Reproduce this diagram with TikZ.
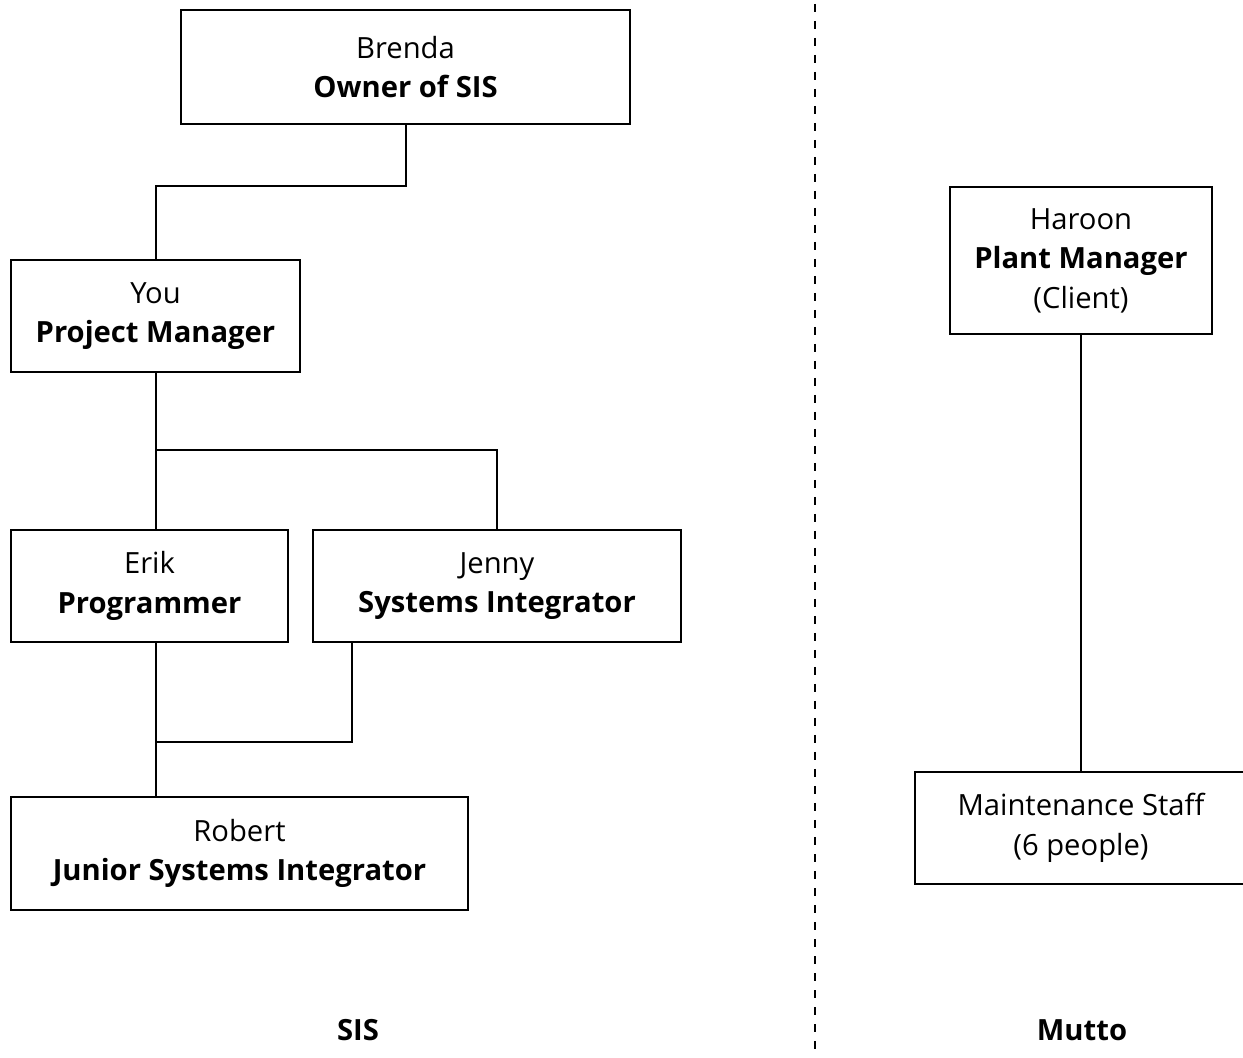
\documentclass[tikz,border=0pt]{standalone}
\usepackage{fontspec}
\setmainfont{Open Sans}

\begin{document}
\begin{tikzpicture}[x=0.5pt,y=-0.5pt,
  box/.style={draw,line width=1pt,align=center,inner sep=0pt,font=\fontsize{14.6}{19.7}\selectfont},
  link/.style={line width=1pt},
  title/.style={font=\fontsize{14.6}{19.7}\selectfont\bfseries}]
\useasboundingbox (0,0) rectangle (1243,1058);
\clip (0,0) rectangle (1243,1058);
\node at (405.5,67)[box,minimum width=224.5pt,minimum height=57pt] (Brenda) {Brenda\\\textbf{Owner of SIS}};
\node at (155.5,316)[box,minimum width=144.5pt,minimum height=56pt] (You) {You\\\textbf{Project Manager}};
\node at (149.5,586)[box,minimum width=138.5pt,minimum height=56pt] (Erik) {Erik\\\textbf{Programmer}};
\node at (497,586)[box,minimum width=184pt,minimum height=56pt] (Jenny) {Jenny\\\textbf{Systems Integrator}};
\node at (239.5,853.5)[box,minimum width=228.5pt,minimum height=56.5pt] (Robert) {Robert\\\textbf{Junior Systems Integrator}};
\node at (1081,260.5)[box,minimum width=131pt,minimum height=73.5pt] (Haroon) {Haroon\\\textbf{Plant Manager}\\(Client)};
\node at (1081,828)[box,minimum width=166pt,minimum height=56pt] (Maint) {Maintenance Staff\\(6 people)};
\node at (358,1030)[title] (SIS) {SIS};
\node at (1082,1030)[title] (Mutto) {Mutto};
\draw[link] (Brenda.south) -- (Brenda.south |- 0,186) -| (You.north);
\draw[link] (You.south) -- (You.south |- Erik.north);
\draw[link] (You.south |- 0,450) -| (Jenny.north);
\draw[link] (You.south |- Erik.south) -- (You.south |- Robert.north);
\draw[link] ([xshift=20pt]Jenny.south west) |- (You.south |- 0,742);
\draw[link] (Haroon) -- (Maint);
\draw[line width=1pt,dash pattern=on 4pt off 4.5pt] (815,4) -- (815,1056);
\end{tikzpicture}
\end{document}
